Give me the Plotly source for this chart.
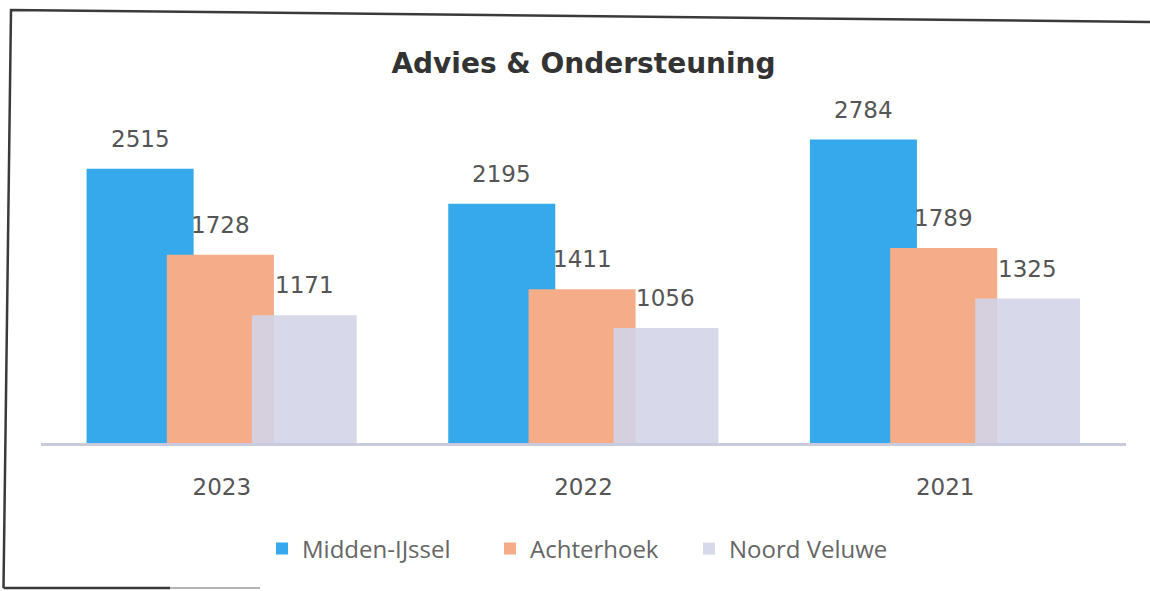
import plotly.graph_objects as go

# ---- data ----
years = ["2023", "2022", "2021"]
series_names = ["Midden-IJssel", "Achterhoek", "Noord Veluwe"]
midden_ijssel = [2515, 2195, 2784]
achterhoek = [1728, 1411, 1789]
noord_veluwe = [1171, 1056, 1325]
title_text = "Advies & Ondersteuning"

# ---- styling ----
colors = ["#36A9EC", "#F5AC88", "#D2D4E8"]
opacities = [1.0, 1.0, 0.88]
offsets = [-0.374, -0.152, 0.083]
widths = [0.296, 0.296, 0.290]
legend_widths = [183, 154, 185]
series_values = [midden_ijssel, achterhoek, noord_veluwe]

W, H = 1150, 591
ML, MR, MT, MB = 41, 24, 100, 148
px_per_unit = 0.109
ymax = (H - MT - MB) / px_per_unit

fig = go.Figure()
for name, vals, col, op, off, wd, lw in zip(series_names, series_values, colors,
                                            opacities, offsets, widths, legend_widths):
    fig.add_trace(go.Bar(
        x=years, y=vals, name=name,
        marker=dict(color=col, line=dict(width=0)),
        opacity=op, offset=off, width=wd, legendwidth=lw,
    ))

annotations = []
for vals, off, wd in zip(series_values, offsets, widths):
    for i, v in enumerate(vals):
        annotations.append(dict(
            x=i + off + wd / 2, y=v, xref="x", yref="y",
            text=str(v), showarrow=False, yanchor="middle", yshift=30,
            font=dict(family="DejaVu Sans", size=23, color="#555555"),
        ))

# scanned border (paper coords relative to plot area)
pw = W - ML - MR
ph = H - MT - MB
def px2x(px):
    return (px - ML) / pw
def py2y(py):
    return (H - MB - py) / ph

shapes = [
    dict(type="path", xref="paper", yref="paper",
         path=f"M {px2x(3.5)},{py2y(588)} L {px2x(11)},{py2y(10)} L {px2x(1150)},{py2y(22)}",
         line=dict(color="#3a3a3a", width=2.5)),
    dict(type="line", xref="paper", yref="paper",
         x0=px2x(3.5), y0=py2y(588), x1=px2x(170), y1=py2y(588),
         line=dict(color="#3a3a3a", width=2.5)),
    dict(type="line", xref="paper", yref="paper",
         x0=px2x(170), y0=py2y(588), x1=px2x(260), y1=py2y(588),
         line=dict(color="#9a9a9a", width=1.5)),
]

fig.update_layout(
    width=W, height=H,
    margin=dict(l=ML, r=MR, t=MT, b=MB, autoexpand=False),
    paper_bgcolor="white", plot_bgcolor="white",
    barmode="overlay",
    title=dict(text=title_text, x=0.5, xanchor="center", xref="paper",
               y=1 - 63 / H, yanchor="middle",
               font=dict(family="DejaVu Sans", size=28, color="#333333", weight="bold")),
    showlegend=True,
    legend=dict(orientation="h", x=px2x(262), xanchor="left", xref="paper",
                y=py2y(549), yanchor="middle",
                font=dict(family="Open Sans", size=24, color="#666666"),
                traceorder="normal"),
    xaxis=dict(showline=True, linecolor="#C9CBDC", linewidth=3,
               showgrid=False, zeroline=False,
               ticks="outside", ticklen=21, tickcolor="rgba(0,0,0,0)",
               tickfont=dict(family="DejaVu Sans", size=23, color="#555555"),
               range=[-0.5, 2.5]),
    yaxis=dict(visible=False, range=[0, ymax], showgrid=False, zeroline=False),
    annotations=annotations,
    shapes=shapes,
)

fig.write_html("out.html", config={"displayModeBar": False},
               post_script="document.body.style.margin='0';")
